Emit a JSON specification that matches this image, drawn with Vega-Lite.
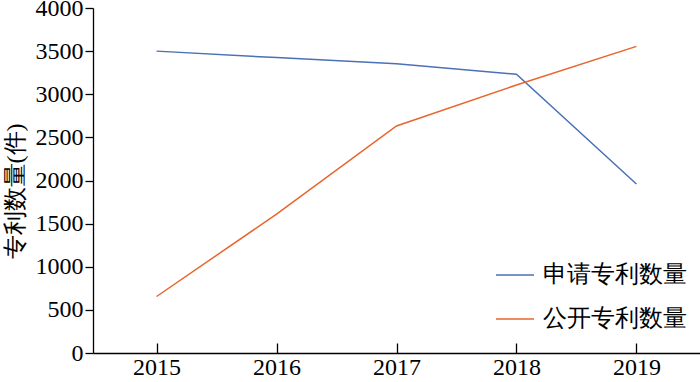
{
  "$schema": "https://vega.github.io/schema/vega-lite/v6.json",
  "autosize": {"type": "none"},
  "width": 607,
  "height": 345,
  "padding": {"left": 93, "top": 8, "right": 0, "bottom": 29},
  "background": "white",
  "config": {
    "view": {"stroke": null},
    "axis": {"domainColor": "black", "tickColor": "black", "labelColor": "black", "titleColor": "black", "grid": false, "labelFont": "Liberation Serif", "titleFont": "Liberation Serif", "labelFontSize": 24, "titleFontWeight": "normal", "domainWidth": 1.3, "tickWidth": 1.3},
    "legend": {"labelFont": "Liberation Serif", "labelFontSize": 24, "labelColor": "black"}
  },
  "data": {
    "values": [
      {"year": "2015", "series": "申请专利数量", "value": 3500},
      {"year": "2016", "series": "申请专利数量", "value": 3425},
      {"year": "2017", "series": "申请专利数量", "value": 3355},
      {"year": "2018", "series": "申请专利数量", "value": 3232},
      {"year": "2019", "series": "申请专利数量", "value": 1960},
      {"year": "2015", "series": "公开专利数量", "value": 655},
      {"year": "2016", "series": "公开专利数量", "value": 1610},
      {"year": "2017", "series": "公开专利数量", "value": 2632},
      {"year": "2018", "series": "公开专利数量", "value": 3107},
      {"year": "2019", "series": "公开专利数量", "value": 3555}
    ]
  },
  "mark": {"type": "line", "strokeWidth": 1.5},
  "encoding": {
    "x": {
      "field": "year", "type": "ordinal",
      "scale": {"type": "point", "padding": 0.53},
      "axis": {"title": null, "labelAngle": 0, "tickSize": -10, "labelPadding": 12}
    },
    "y": {
      "field": "value", "type": "quantitative",
      "scale": {"domain": [0, 4000], "nice": false},
      "axis": {"title": "专利数量(件)", "titleFontSize": 24, "titleY": 183, "format": "d", "values": [0,500,1000,1500,2000,2500,3000,3500,4000], "tickSize": 8, "labelPadding": 2, "titlePadding": 8}
    },
    "color": {
      "field": "series", "type": "nominal",
      "scale": {"domain": ["申请专利数量", "公开专利数量"], "range": ["#4a70b5", "#e8652b"]},
      "legend": {"title": null, "orient": "none", "legendX": 402, "legendY": 247, "symbolType": "stroke", "symbolSize": 1444, "symbolStrokeWidth": 1.5, "labelOffset": 8, "rowPadding": 12}
    }
  }
}
